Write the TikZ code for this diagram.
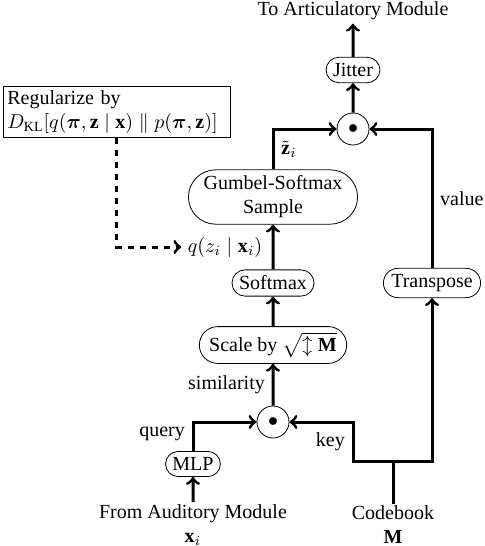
\documentclass[tikz,border=0pt]{standalone}
\usepackage{fontspec}
\setmainfont{Liberation Serif}
\usepackage{amsmath}
\usepackage{bm}
\usetikzlibrary{shapes.misc, arrows}

\begin{document}
\begin{tikzpicture}[x=0.5pt, y=-0.5pt,
    block/.style={draw, rounded rectangle, inner xsep=2.5pt, inner ysep=3pt},
    prod/.style={draw, circle, minimum size=16pt, inner sep=0pt},
    flow/.style={line width=1.5pt, ->, >=to}]
      \useasboundingbox (0,0) rectangle (484,546);
      \node[anchor=base, inner sep=2pt] (out) at (353, 15) {To Articulatory Module};
      \node[block] (jitter) at (353, 70) {Jitter};
      \node[prod] (mulv) at (353, 129) {$\bullet$};
      \node[block, align=center] (gumbel) at (273, 197) {Gumbel-Softmax\\Sample};
      \node[inner sep=3pt] (post) at (225, 247) {$q(z_i \mid \mathbf{x}_i)$};
      \node[block] (softmax) at (273, 283) {Softmax};
      \node[block] (scale) at (273, 345) {Scale by $\sqrt{\updownarrow \mathbf{M}}$};
      \node[prod] (mulk) at (273, 422) {$\bullet$};
      \node[block] (mlp) at (193, 464) {MLP};
      \node[block] (transpose) at (432, 283) {Transpose};
      \node[align=center, inner sep=1pt] (audin) at (193, 525) {From Auditory Module\\$\mathbf{x}_i$};
      \node[align=center, inner sep=1pt] (codebook) at (393, 525) {Codebook\\$\mathbf{M}$};
      \node[draw, align=left, anchor=north west, inner sep=2pt, text width=109.5pt] (kl) at (3, 86) {
        Regularize by\\
        $D_{\mathrm{KL}}[q(\bm\pi, \mathbf{z} \mid \mathbf{x}) \parallel p(\bm\pi, \mathbf{z})]$
      };
      \coordinate (split) at (393, 461);
      \coordinate (keyturn) at (353, 461);
      % output branch
      \draw[flow] (jitter) -- (out);
      \draw[flow] (mulv) -- (jitter);
      \draw[flow] (gumbel.north) |- node[pos=0.25, right] {$\tilde{\mathbf{z}}_i$} (mulv);
      \draw[flow] (transpose.north) |- node[pos=0.25, right] {value} (mulv);
      % query branch
      \draw[flow] (softmax) -- (gumbel);
      \draw[flow] (scale) -- (softmax);
      \draw[flow] (mulk) -- node[left] {similarity} (scale);
      \draw[flow] (mlp.north) |- node[pos=0.3, left] {query} (mulk);
      \draw[flow] (audin) -- (mlp);
      % codebook
      \draw[line width=1.5pt] (codebook) -- (split);
      \draw[flow] (split) -- (keyturn) |- node[pos=0.25, left] {key} (mulk);
      \draw[flow] (split) -| (transpose.south);
      % regularizer
      \draw[flow, dashed] (kl.south) |- (post.west);
    \end{tikzpicture}
\end{document}
